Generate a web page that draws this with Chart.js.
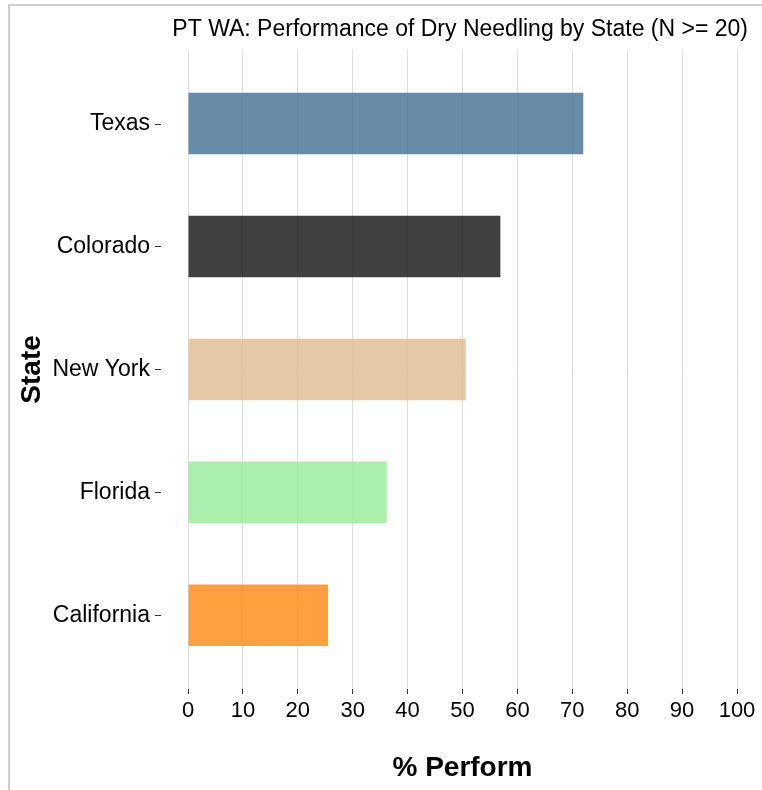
<!DOCTYPE html>
<html>
<head>
<meta charset="utf-8">
<script src="https://cdn.jsdelivr.net/npm/chart.js@4.4.1/dist/chart.umd.min.js"></script>
<style>
  body { margin: 0; background: #fff; }
  .frame {
    position: absolute; left: 8px; top: 4px;
    width: 752px; height: 786px;
    border-left: 2px solid #cfcfcf; border-top: 2px solid #cfcfcf;
  }
  canvas { display: block; }
</style>
</head>
<body>
<div class="frame"><canvas id="myChart" width="752" height="786"></canvas></div>
<script>
// data (top to bottom)
let states = ['Texas', 'Colorado', 'New York', 'Florida', 'California']
let perform = [72.0, 56.9, 50.6, 36.2, 25.5]
let barColors = [
  'rgba(66,110,145,0.8)',
  'rgba(16,16,16,0.8)',
  'rgba(224,188,141,0.8)',
  'rgba(149,236,149,0.8)',
  'rgba(255,135,16,0.8)'
]
let xTicks = [0, 10, 20, 30, 40, 50, 60, 70, 80, 90, 100]

let font = 'Liberation Sans, Arial, sans-serif'

// little dash next to each state label, like the ggplot tick
let yDashes = {
  id: 'yDashes',
  afterDraw(chart) {
    let ctx = chart.ctx
    let y = chart.scales.y
    let left = chart.chartArea.left
    ctx.save()
    ctx.strokeStyle = '#333'
    ctx.lineWidth = 1
    y.ticks.forEach(t => {
      let py = Math.round(y.getPixelForValue(t.value)) + 0.5
      ctx.beginPath()
      ctx.moveTo(left - 33, py)
      ctx.lineTo(left - 27, py)
      ctx.stroke()
    })
    ctx.restore()
  }
}

new Chart('myChart', {
  type: 'bar',
  data: {
    datasets: [{
      data: perform.map((v, i) => ({ x: v, y: i })),
      backgroundColor: barColors,
      borderWidth: 0,
      barPercentage: 0.5,
      categoryPercentage: 1
    }]
  },
  options: {
    indexAxis: 'y',
    responsive: false,
    animation: false,
    layout: { padding: { left: 5, right: 14, top: 0, bottom: 3 } },
    plugins: {
      legend: { display: false },
      tooltip: { enabled: false },
      title: {
        display: true,
        text: 'PT WA: Performance of Dry Needling by State (N >= 20)',
        align: 'end',
        color: '#000',
        font: { family: font, size: 23, weight: 'normal' },
        padding: { top: 8, bottom: 6 }
      }
    },
    scales: {
      x: {
        type: 'linear',
        min: 0,
        max: 100,
        afterBuildTicks: s => { s.ticks = xTicks.map(v => ({ value: v })) },
        afterFit: s => { s.paddingRight = 25 },
        grid: { color: '#dedede', lineWidth: 1, tickLength: 5, tickColor: '#333' },
        border: { display: false },
        ticks: { color: '#000', padding: 4, font: { family: font, size: 22 } },
        title: {
          display: true,
          text: '% Perform',
          color: '#000',
          font: { family: font, size: 28, weight: 'bold' },
          padding: { top: 23, bottom: 4 }
        }
      },
      y: {
        type: 'linear',
        min: -0.6,
        max: 4.6,
        reverse: true,
        offset: false,
        afterBuildTicks: s => { s.ticks = states.map((n, i) => ({ value: i })) },
        afterFit: s => { s.width = 173 },
        grid: { display: false, offset: false },
        border: { display: false },
        ticks: {
          color: '#000',
          padding: 30,
          font: { family: font, size: 23 },
          callback: v => states[v]
        },
        title: {
          display: true,
          text: 'State',
          color: '#000',
          font: { family: font, size: 28, weight: 'bold' },
          padding: { top: 0, bottom: 2 }
        }
      }
    }
  },
  plugins: [yDashes]
})
</script>
</body>
</html>
